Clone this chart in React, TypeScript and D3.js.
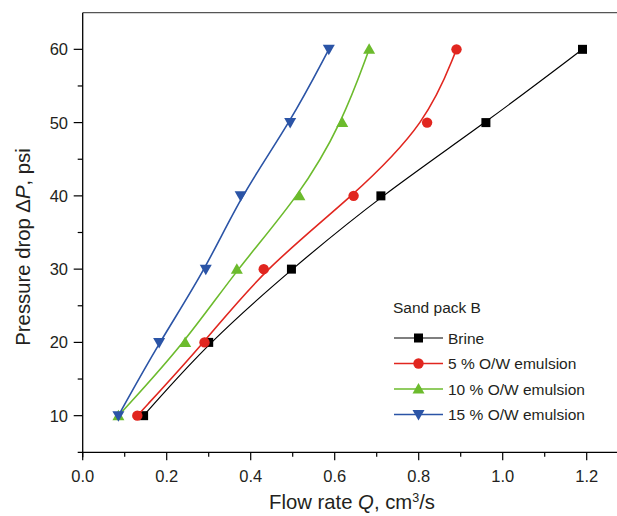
import React from "react";
import * as d3 from "d3";

const flowBrine = [0.145, 0.3, 0.497, 0.71, 0.96, 1.19];
const flow5 = [0.13, 0.29, 0.431, 0.645, 0.82, 0.89];
const flow10 = [0.085, 0.244, 0.367, 0.516, 0.618, 0.682];
const flow15 = [0.085, 0.182, 0.293, 0.376, 0.494, 0.586];
const pressure = [10, 20, 30, 40, 50, 60];
const seriesNames = ["Brine", "5 % O/W emulsion", "10 % O/W emulsion", "15 % O/W emulsion"];
const xTicks = [0, 0.2, 0.4, 0.6, 0.8, 1.0, 1.2];
const xMinor = [0.1, 0.3, 0.5, 0.7, 0.9, 1.1];
const yTicks = [10, 20, 30, 40, 50, 60];
const yMinor = [15, 25, 35, 45, 55];

const colors = ["#000000", "#e1261f", "#6cbb2d", "#2b54a6"];
const shapes = ["square", "circle", "up", "down"];
const widths = [1.2, 1.6, 1.6, 1.6];

const W = 617;
const H = 516;
const x = d3.scaleLinear().domain([0, 1.3]).range([82.7, 82.7 + 420 * 1.3]);
const y = d3.scaleLinear().domain([5, 65]).range([452.3, 12.7]);

function Marker({ shape, cx, cy, color }: { shape: string; cx: number; cy: number; color: string }) {
  if (shape === "square") return <rect x={cx - 4.5} y={cy - 4.5} width={9} height={9} fill={color} />;
  if (shape === "circle") return <circle cx={cx} cy={cy} r={5.2} fill={color} />;
  if (shape === "up")
    return <path d={`M${cx},${cy - 6} L${cx + 6},${cy + 4.5} L${cx - 6},${cy + 4.5} Z`} fill={color} />;
  return <path d={`M${cx},${cy + 6} L${cx + 6},${cy - 4.5} L${cx - 6},${cy - 4.5} Z`} fill={color} />;
}

export default function App() {
  const all = [flowBrine, flow5, flow10, flow15];
  const line = d3
    .line<[number, number]>()
    .x((d) => x(d[0]))
    .y((d) => y(d[1]))
    .curve(d3.curveBasis);
  const textColor = "#231f20";
  const font = "Liberation Sans, Arial, sans-serif";
  const x0 = x(0);
  const yb = y(5);
  return (
    <svg
      width={W}
      height={H}
      style={{ position: "absolute", left: 0, top: 0, background: "#fff" }}
      fontFamily={font}
    >
      {/* frame */}
      <line x1={x0} x2={W} y1={y(65)} y2={y(65)} stroke="#555" strokeWidth={1.3} />
      <line x1={x0 - 5} x2={W} y1={yb} y2={yb} stroke="#000" strokeWidth={1.3} />
      <line x1={x0} x2={x0} y1={y(65)} y2={yb + 5} stroke="#000" strokeWidth={1.3} />
      {/* x ticks */}
      {xTicks.map((t) => (
        <g key={"xt" + t}>
          <line x1={x(t)} x2={x(t)} y1={yb} y2={yb + 8} stroke="#000" strokeWidth={1.2} />
          <text x={x(t)} y={482} textAnchor="middle" fontSize={16.5} fill={textColor}>
            {t.toFixed(1)}
          </text>
        </g>
      ))}
      {xMinor.map((t) => (
        <line key={"xm" + t} x1={x(t)} x2={x(t)} y1={yb} y2={yb + 4.5} stroke="#000" strokeWidth={1.2} />
      ))}
      {/* y ticks */}
      {yTicks.map((t) => (
        <g key={"yt" + t}>
          <line x1={x0 - 9} x2={x0} y1={y(t)} y2={y(t)} stroke="#000" strokeWidth={1.2} />
          <text x={68} y={y(t) + 6} textAnchor="end" fontSize={16.5} fill={textColor}>
            {t}
          </text>
        </g>
      ))}
      {yMinor.map((t) => (
        <line key={"ym" + t} x1={x0 - 5} x2={x0} y1={y(t)} y2={y(t)} stroke="#000" strokeWidth={1.2} />
      ))}
      {/* axis labels */}
      <text x={352} y={509} textAnchor="middle" fontSize={20.3} fill={textColor}>
        Flow rate <tspan fontStyle="italic">Q</tspan>, cm
        <tspan fontSize={12.5} dy={-7.5}>3</tspan>
        <tspan dy={7.5}>/s</tspan>
      </text>
      <text
        transform={`translate(30,247) rotate(-90)`}
        textAnchor="middle"
        fontSize={20.3}
        fill={textColor}
      >
        Pressure drop Δ<tspan fontStyle="italic">P</tspan>, psi
      </text>
      {/* series */}
      {all.map((xs, i) => {
        const pts: [number, number][] = xs.map((v, j) => [v, pressure[j]]);
        return (
          <g key={"s" + i}>
            <path d={line(pts) || ""} fill="none" stroke={colors[i]} strokeWidth={widths[i]} />
            {pts.map((p, j) => (
              <Marker key={j} shape={shapes[i]} cx={x(p[0])} cy={y(p[1])} color={colors[i]} />
            ))}
          </g>
        );
      })}
      {/* legend */}
      <text x={393} y={313} fontSize={15.5} fill={textColor}>
        Sand pack B
      </text>
      {seriesNames.map((name, i) => {
        const ly = 338 + i * 25.5;
        return (
          <g key={"l" + i}>
            <line x1={394} x2={443} y1={ly} y2={ly} stroke={colors[i]} strokeWidth={widths[i]} />
            <Marker shape={shapes[i]} cx={418.5} cy={ly} color={colors[i]} />
            <text x={448} y={ly + 5.5} fontSize={15.5} fill={textColor}>
              {name}
            </text>
          </g>
        );
      })}
    </svg>
  );
}
